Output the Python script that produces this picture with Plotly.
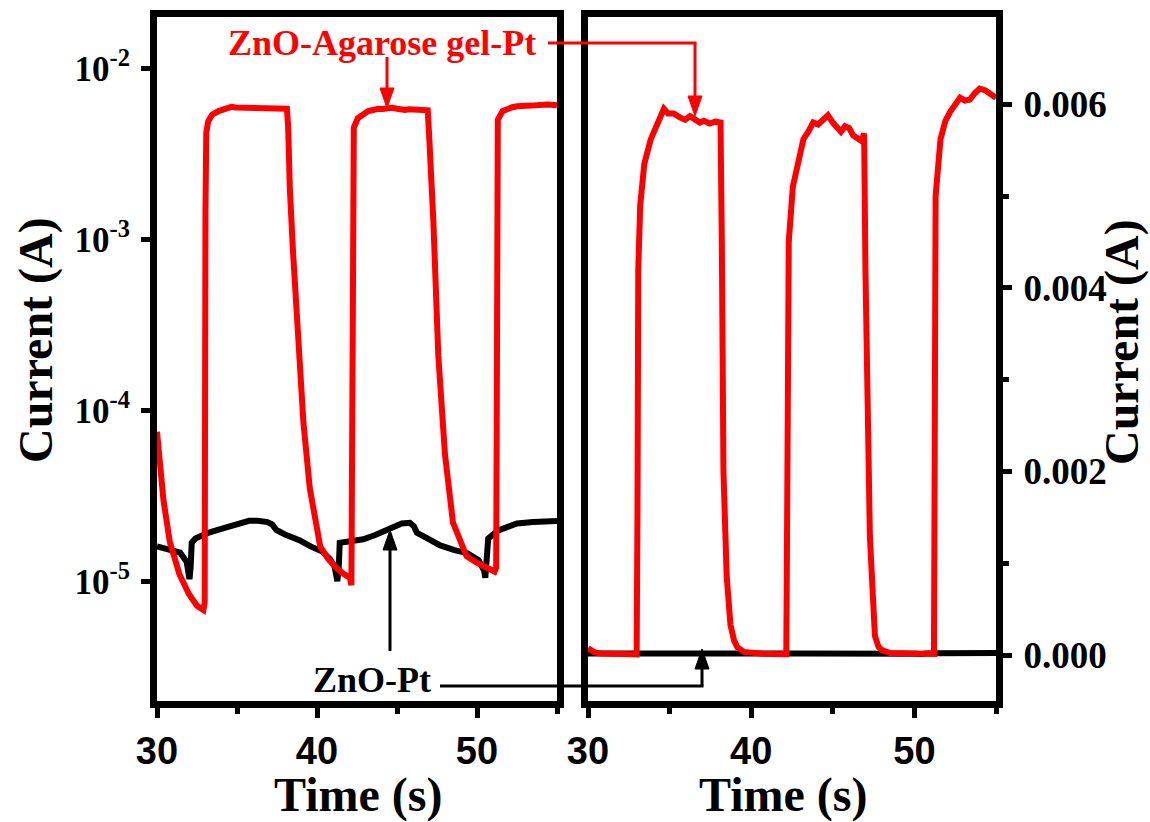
import plotly.graph_objects as go

# Photocurrent switching, ZnO-Agarose gel-Pt device (red) vs ZnO-Pt device (black)
t_gel = [30.00, 30.15, 30.40, 30.80, 31.40, 32.00, 32.50, 32.90, 32.98, 33.03, 33.08, 33.20,
         33.45, 33.85, 34.35, 34.65, 34.90, 35.25, 35.60, 35.95, 36.25, 36.55, 36.85, 37.10,
         37.45, 37.80, 38.12, 38.20, 38.30, 38.50, 38.73, 38.95, 39.15, 39.55, 40.20, 40.70,
         41.20, 41.70, 42.05, 42.15, 42.22, 42.30, 42.55, 42.80, 43.20, 43.50, 43.80, 44.10,
         44.40, 44.70, 45.00, 45.25, 45.50, 45.75, 46.00, 46.25, 46.50, 46.75, 46.92, 47.00,
         47.27, 47.58, 47.80, 48.00, 48.50, 49.35, 50.00, 50.60, 51.10, 51.20, 51.25, 51.30,
         51.60, 51.90, 52.20, 52.50, 52.80, 53.10, 53.40, 53.70, 54.00, 54.35, 54.65, 55.00]
i_gel = [7.5e-5, 5.0e-5, 3.0e-5, 1.7e-5, 1.1e-5, 8.4e-6, 7.2e-6, 6.8e-6, 7.5e-6, 1.5e-3, 4.2e-3, 4.9e-3,
         5.35e-3, 5.62e-3, 5.85e-3, 5.95e-3, 5.90e-3, 5.90e-3, 5.86e-3, 5.83e-3, 5.87e-3, 5.84e-3, 5.80e-3, 5.82e-3,
         5.79e-3, 5.81e-3, 5.80e-3, 4.5e-3, 2.0e-3, 8.5e-4, 3.3e-4, 1.6e-4, 8.5e-5, 3.5e-5, 1.6e-5, 1.35e-5,
         1.2e-5, 1.1e-5, 1.05e-5, 9.5e-6, 2.0e-3, 4.5e-3, 5.1e-3, 5.32e-3, 5.62e-3, 5.70e-3, 5.80e-3, 5.78e-3,
         5.84e-3, 5.88e-3, 5.80e-3, 5.74e-3, 5.70e-3, 5.76e-3, 5.74e-3, 5.66e-3, 5.62e-3, 5.60e-3, 5.68e-3, 4.2e-3,
         1.3e-3, 2.1e-4, 9.0e-5, 5.5e-5, 2.2e-5, 1.4e-5, 1.28e-5, 1.2e-5, 1.14e-5, 1.2e-5, 2.5e-3, 5.0e-3,
         5.62e-3, 5.82e-3, 5.92e-3, 6.00e-3, 6.07e-3, 6.04e-3, 6.05e-3, 6.12e-3, 6.17e-3, 6.15e-3, 6.12e-3, 6.07e-3]

t_pt = [30.00, 30.50, 31.00, 31.45, 31.85, 32.03, 32.10, 32.17, 32.40, 32.70, 33.20, 33.80,
        34.50, 35.20, 35.75, 36.30, 36.90, 37.20, 37.45, 38.00, 38.90, 39.60, 40.30, 40.80,
        41.10, 41.27, 41.36, 41.42, 42.00, 42.90, 43.60, 44.40, 44.90, 45.30, 45.80, 46.05,
        46.25, 46.90, 47.70, 48.60, 49.40, 50.10, 50.45, 50.52, 50.60, 50.70, 51.30, 52.00,
        52.50, 53.50, 54.20, 55.00]
i_pt = [1.6e-5, 1.56e-5, 1.52e-5, 1.47e-5, 1.3e-5, 1.03e-5, 1.2e-5, 1.68e-5, 1.78e-5, 1.84e-5, 1.92e-5, 2.0e-5,
        2.1e-5, 2.2e-5, 2.26e-5, 2.26e-5, 2.22e-5, 2.15e-5, 2.0e-5, 1.88e-5, 1.74e-5, 1.6e-5, 1.5e-5, 1.35e-5,
        1.22e-5, 1.0e-5, 1.2e-5, 1.68e-5, 1.72e-5, 1.76e-5, 1.86e-5, 1.98e-5, 2.1e-5, 2.18e-5, 2.2e-5, 2.1e-5,
        1.92e-5, 1.78e-5, 1.62e-5, 1.52e-5, 1.46e-5, 1.33e-5, 1.15e-5, 1.05e-5, 1.5e-5, 1.78e-5, 1.98e-5, 2.1e-5,
        2.18e-5, 2.22e-5, 2.25e-5, 2.25e-5]

x_ticks = [30, 40, 50]
log_ticks = [1e-5, 1e-4, 1e-3, 1e-2]
log_tick_text = ["10<sup>-5</sup>", "10<sup>-4</sup>", "10<sup>-3</sup>", "10<sup>-2</sup>"]
lin_ticks = [0.0, 0.002, 0.004, 0.006]
lin_tick_text = ["0.000", "0.002", "0.004", "0.006"]

W, H = 1150, 822
SERIF = "Liberation Serif"
SANS = "Liberation Sans"
RED = "#ff0000"


def px(x):
    return x / W


def py(y):
    return 1 - y / H


fig = go.Figure()
for xa, ya in (("x", "y"), ("x2", "y2")):
    fig.add_trace(go.Scatter(x=t_pt, y=i_pt, mode="lines", xaxis=xa, yaxis=ya,
                             line=dict(color="black", width=6), showlegend=False))
    fig.add_trace(go.Scatter(x=t_gel, y=i_gel, mode="lines", xaxis=xa, yaxis=ya,
                             line=dict(color=RED, width=6), showlegend=False))

frame = dict(showline=True, linecolor="black", linewidth=7, mirror=True, automargin=False,
             showgrid=False, zeroline=False, ticks="outside", tickcolor="black")
xtick_font = dict(family=SANS, size=38, color="black", weight="bold")
x_common = dict(range=[30, 55], tickvals=x_ticks, ticklen=10, tickwidth=5,
                tickfont=xtick_font,
                minor=dict(dtick=5, tick0=30, ticks="outside", ticklen=6, tickwidth=5,
                           tickcolor="black", showgrid=False),
                **frame)
y_dom = [py(701), py(17)]

fig.update_layout(
    width=W, height=H, margin=dict(l=0, r=0, t=0, b=0, autoexpand=False),
    paper_bgcolor="white", plot_bgcolor="white",
    xaxis=dict(domain=[px(157), px(557)], anchor="y", **x_common),
    xaxis2=dict(domain=[px(588), px(996)], anchor="y2", **x_common),
    yaxis=dict(domain=y_dom, anchor="x", type="log", range=[-5.70, -1.70],
               tickvals=log_ticks, ticktext=log_tick_text, ticklen=9, tickwidth=5,
               ticklabelstandoff=4,
               tickfont=dict(family=SERIF, size=35, color="black", weight="bold"),
               **frame),
    yaxis2=dict(domain=y_dom, anchor="x2", side="right", range=[-0.0005, 0.00695],
                tickvals=lin_ticks, ticktext=lin_tick_text, ticklen=9, tickwidth=5,
                ticklabelstandoff=4,
                tickfont=dict(family=SERIF, size=37, color="black", weight="bold"),
                minor=dict(dtick=0.001, tick0=0, ticks="outside", ticklen=6, tickwidth=5,
                           tickcolor="black", showgrid=False),
                **frame),
)

title_font = dict(family=SERIF, size=48, color="black", weight="bold")
label_font = dict(family=SERIF, size=36, weight="bold")

annotations = [
    dict(text="Current (A)", x=px(36), y=py(340), textangle=-90, font=title_font),
    dict(text="Current (A)", x=px(1122), y=py(342), textangle=-90, font=title_font),
    dict(text="Time (s)", x=px(358), y=py(795), font=title_font),
    dict(text="Time (s)", x=px(783), y=py(795), font=title_font),
    dict(text="ZnO-Agarose gel-Pt", x=px(382), y=py(43), font=dict(color=RED, **label_font)),
    dict(text="ZnO-Pt", x=px(372), y=py(680), font=dict(color="black", **label_font)),
]
for a in annotations:
    a.update(xref="paper", yref="paper", xanchor="center", yanchor="middle", showarrow=False)
fig.update_layout(annotations=annotations)


def seg(x0, y0, x1, y1, c):
    fig.add_shape(type="line", xref="paper", yref="paper", x0=px(x0), y0=py(y0),
                  x1=px(x1), y1=py(y1), line=dict(color=c, width=3))


def head(x, y, direction, c, w=14, h=20):
    # filled triangular arrow head with its tip at (x, y); direction +1 points down, -1 up
    yb = y - direction * h
    path = (f"M {px(x)},{py(y)} L {px(x - w / 2)},{py(yb)} "
            f"L {px(x + w / 2)},{py(yb)} Z")
    fig.add_shape(type="path", xref="paper", yref="paper", path=path,
                  fillcolor=c, line=dict(color=c, width=1))


# label pointers and elbow connectors into the right-hand panel
seg(387, 57, 387, 95, RED)
head(387, 108, +1, RED)
seg(548, 43, 696.5, 43, RED)
seg(695, 43, 695, 100, RED)
head(695, 116, +1, RED)
seg(390, 651, 390, 545, "black")
head(390, 530, -1, "black")
seg(440, 686, 703.5, 686, "black")
seg(702, 686, 702, 662, "black")
head(702, 649, -1, "black")

fig.write_html("out.html")
